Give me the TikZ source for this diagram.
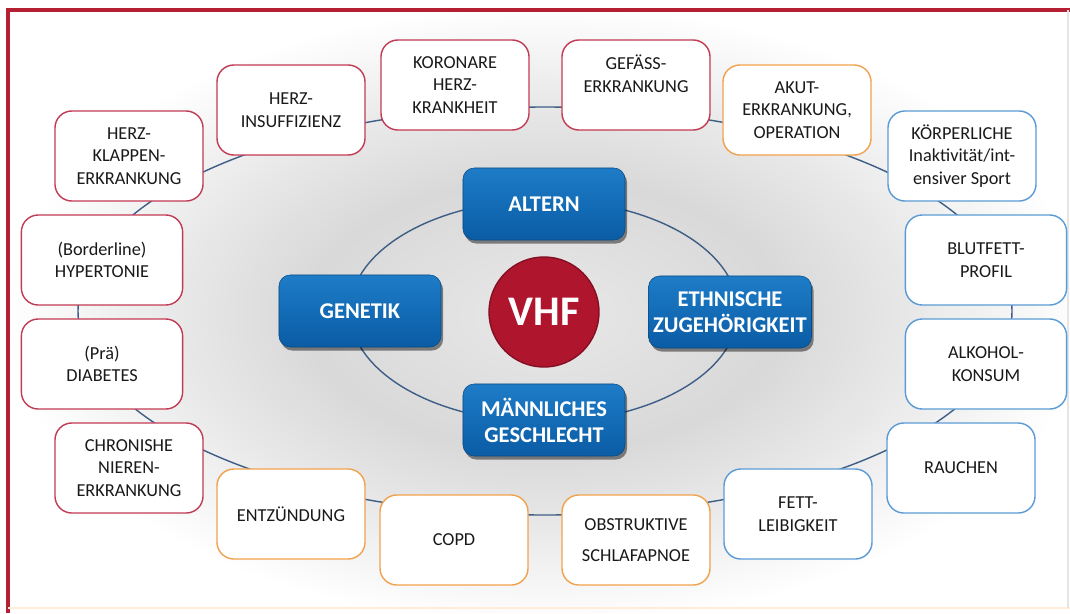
\documentclass[tikz,border=0pt]{standalone}
\usepackage{fontspec}
\setmainfont{Carlito}
\usetikzlibrary{shadows}

\definecolor{framered}{HTML}{B41F33}
\definecolor{riskred}{HTML}{C23B54}
\definecolor{riskorange}{HTML}{F2A24E}
\definecolor{riskblue}{HTML}{5B9BD5}
\definecolor{ringblue}{HTML}{3F5E86}
\definecolor{btntop}{HTML}{1E7CC8}
\definecolor{btnbottom}{HTML}{0A5CA4}
\definecolor{vhfred}{HTML}{B0152E}

\pgfdeclareradialshading{bgglow}{\pgfpoint{0bp}{0bp}}{color(0bp)=(black!9); color(11bp)=(black!15); color(17bp)=(black!9); color(25bp)=(white); color(50bp)=(white)}

\begin{document}
\begin{tikzpicture}[x=0.025cm,y=-0.025cm]
  % Styles
  \tikzstyle{risk}=[draw,fill=white,rounded corners=12pt,line width=1pt,
    minimum width=3.7cm,minimum height=2.25cm,align=center,text=black!90,
    font=\fontsize{13}{16}\selectfont]
  \tikzstyle{red risk}=[risk,draw=riskred]
  \tikzstyle{orange risk}=[risk,draw=riskorange]
  \tikzstyle{blue risk}=[risk,draw=riskblue]
  \tikzstyle{wide}=[minimum width=4.03cm]
  \tikzstyle{factor}=[rounded corners=8pt,minimum width=4.05cm,minimum height=1.8cm,
    top color=btntop,bottom color=btnbottom,draw=btnbottom!80!black,align=center,
    text=white,font=\fontsize{16}{18.5}\selectfont\bfseries,
    drop shadow={shadow xshift=1.5pt,shadow yshift=-2.5pt,opacity=.45,fill=black}]
  \tikzstyle{ring}=[draw=ringblue,line width=1pt]

  \useasboundingbox (0,0) rectangle (1070,613);

  % The graphic
  \fill[white] (0,0) rectangle (1070,613);
  \shade[shading=bgglow] (545,315) ellipse [x radius=540, y radius=310];
  \draw[framered,line width=2.2pt] (1070,10) -- (8,10) -- (8,613);
  \draw[orange!15,line width=1pt] (8,608) -- (1070,608);
  \draw[black!10,line width=.8pt] (1068,10) -- (1068,608);

  \coordinate (outer) at (545,311);
  \coordinate (inner) at (544,311);
  \draw[ring] (outer) ellipse [x radius=467, y radius=204];
  \draw[ring] (inner) ellipse [x radius=194, y radius=111];

  % outer ring
  \node[red risk] (klappen) at (129,156) {HERZ-\\KLAPPEN-\\ERKRANKUNG};
  \node[red risk] (insuff) at (291,110) {HERZ-\\INSUFFIZIENZ};
  \node[red risk] (khk) at (455,85) {KORONARE\\HERZ-\\KRANKHEIT};
  \node[red risk] (gefaess) at (636,85) {GEFÄSS-\\ERKRANKUNG\\~};
  \node[orange risk] (akut) at (797,110) {AKUT-\\ERKRANKUNG,\\OPERATION};
  \node[blue risk] (sport) at (962,156) {KÖRPERLICHE\\Inaktivität/int-\\ensiver Sport};
  \node[blue risk,wide] (lipid) at (986,260) {BLUTFETT-\\PROFIL};
  \node[blue risk,wide] (alkohol) at (986,364) {ALKOHOL-\\KONSUM};
  \node[blue risk] (rauchen) at (961,468) {RAUCHEN};
  \node[blue risk] (adipos) at (798,514) {FETT-\\LEIBIGKEIT};
  \node[orange risk] (osa) at (636,540) {OBSTRUKTIVE\\[6pt]SCHLAFAPNOE};
  \node[orange risk] (copd) at (454,540) {COPD};
  \node[orange risk] (entz) at (291,514) {ENTZÜNDUNG};
  \node[red risk] (cni) at (129,468) {CHRONISHE\\NIEREN-\\ERKRANKUNG};
  \node[red risk,wide] (diabetes) at (102,364) {(Prä)\\DIABETES};
  \node[red risk,wide] (hypert) at (102,260) {(Borderline)\\HYPERTONIE};

  % inner ring
  \node[factor] (altern) at (544,204) {ALTERN};
  \node[factor] (genetik) at (360,311) {GENETIK};
  \node[factor] (ethnie) at (730,312) {ETHNISCHE\\ZUGEHÖRIGKEIT};
  \node[factor] (sex) at (544,420) {MÄNNLICHES\\GESCHLECHT};

  \node[circle,fill=vhfred,draw=vhfred!75!black,line width=1pt,minimum size=2.75cm,
    text=white,font=\fontsize{30}{30}\selectfont\bfseries] (vhf) at (544,312) {VHF};
\end{tikzpicture}
\end{document}
